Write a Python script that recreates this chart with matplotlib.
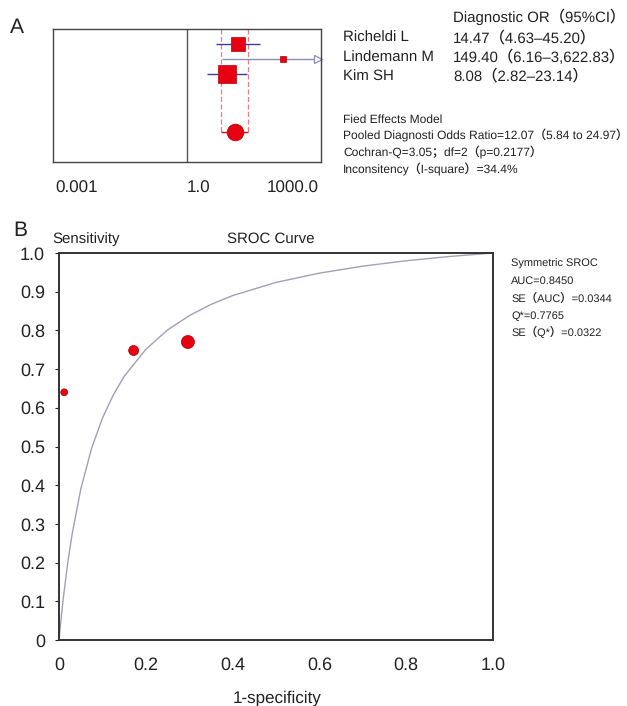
import matplotlib
matplotlib.use('Agg')
import matplotlib.pyplot as plt

# ---- data ----
studies = ['Richeldi L', 'Lindemann M', 'Kim SH']
dor = [14.47, 149.40, 8.08]
ci_low = [4.63, 6.16, 2.82]
ci_high = [45.20, 3622.83, 23.14]
pooled_dor = 12.07
pooled_low = 5.84
pooled_high = 24.97
summary_lines = ['Fied Effects Model',
                 'Pooled Diagnosti Odds Ratio=12.07（5.84 to 24.97）',
                 'Cochran-Q=3.05；df=2（p=0.2177）',
                 'Inconsitency（I-square）=34.4%']

fpr = [0.012, 0.172, 0.297]
sens = [0.640, 0.748, 0.770]
curve_fpr = [0.0, 0.005, 0.01, 0.02, 0.03, 0.05, 0.075, 0.1, 0.125, 0.15, 0.2,
             0.25, 0.3, 0.35, 0.4, 0.5, 0.6, 0.7, 0.8, 0.9, 1.0]
curve_tpr = [0.0, 0.057, 0.109, 0.198, 0.272, 0.389, 0.495, 0.573, 0.633, 0.681, 0.751,
             0.801, 0.838, 0.867, 0.890, 0.924, 0.948, 0.966, 0.980, 0.991, 1.0]
sroc_stats = ['Symmetric SROC', 'AUC=0.8450', 'SE（AUC）=0.0344',
              'Q*=0.7765', 'SE（Q*）=0.0322']

plt.rcParams['font.family'] = ['Liberation Sans', 'Noto Sans CJK SC']
plt.rcParams['text.hinting'] = 'no_hinting'
plt.rcParams['text.hinting_factor'] = 1

W, H = 627, 706
fig = plt.figure(figsize=(W / 100, H / 100), dpi=100)

def fx(px):
    return px / W

def fy(py):
    return 1 - py / H

red = '#e60012'
txt = '#222222'

# ---- panel A: forest plot ----
axA = fig.add_axes([fx(53), fy(162), fx(321) - fx(53), fy(29) - fy(162)])
xmin, xmax = 10 ** -3.05, 10 ** 3.05
axA.set_xscale('log')
axA.set_xlim(xmin, xmax)
axA.set_ylim(8.9, 0)
rows = [1, 2, 3]
pooled_row = 6.9
msizes = [10, 4.3, 13]

axA.axvline(1.0, color='#555555', lw=1)
axA.vlines([pooled_low, pooled_high], 0, pooled_row, colors='#e88080',
           linestyles=(0, (4, 2)), lw=0.9)
axA.hlines(pooled_row, pooled_low, pooled_high, colors=red, lw=1)

for r, d, lo, hi, ms in zip(rows, dor, ci_low, ci_high, msizes):
    if hi > xmax:
        end = xmax / 1.18
        axA.hlines(r, lo, end, colors='#8c8cb8', lw=1)
        axA.plot([end], [r], marker='>', ms=6, mfc='white', mec='#8c8cb8', mew=0.9, clip_on=False)
    else:
        axA.hlines(r, lo, hi, colors='#3a3aa0', lw=1)
    axA.plot([d], [r], marker='s', ms=ms, color=red, mec='#b00000', mew=0.5)

axA.plot([pooled_dor], [pooled_row], marker='o', ms=12, color=red, mec='#b00000', mew=0.5)

axA.set_xticks([0.001, 1.0, 1000.0])
axA.set_xticklabels(['0.001', '1.0', '1000.0'])
axA.minorticks_off()
axA.tick_params(axis='x', length=0, pad=13, labelsize=12.5, colors=txt)
labs = axA.get_xticklabels()
labs[0].set_ha('left')
labs[1].set_ha('left')
labs[1].set_x(1.0)
labs[2].set_ha('right')
axA.set_yticks([])
for s in axA.spines.values():
    s.set_color('#444444')
    s.set_linewidth(1)

fig.text(fx(10), fy(33), 'A', fontsize=15, color=txt)
fig.text(fx(453), fy(22), 'Diagnostic OR（95%CI）', fontsize=11, color=txt)
name_y = [42, 62, 81]
for yy, name, d, lo, hi in zip(name_y, studies, dor, ci_low, ci_high):
    fig.text(fx(343), fy(yy), name, fontsize=11, color=txt)
    fig.text(fx(453), fy(yy), f'{d:.2f}（{lo:.2f}–{hi:,.2f}）', fontsize=11, color=txt)
for i, line in enumerate(summary_lines):
    fig.text(fx(343), fy(123 + 16.7 * i), line, fontsize=8.6, color=txt)

# ---- panel B: SROC ----
axB = fig.add_axes([fx(59), fy(640), fx(493) - fx(59), fy(253) - fy(640)])
axB.plot(curve_fpr, curve_tpr, color='#a0a0b8', lw=1)
axB.scatter(fpr, sens, s=[25, 52, 88], color=red, edgecolors='#b00000', linewidths=0.5, zorder=3)
axB.set_xlim(0, 1)
axB.set_ylim(0, 1)
axB.set_xticks([0, 0.2, 0.4, 0.6, 0.8, 1.0])
axB.set_xticklabels(['0', '0.2', '0.4', '0.6', '0.8', '1.0'])
axB.set_yticks([i / 10 for i in range(11)])
axB.set_yticklabels(['0'] + [f'{i / 10:.1f}' for i in range(1, 11)])
axB.tick_params(axis='x', length=0, pad=12, labelsize=13, colors=txt)
axB.tick_params(axis='y', length=3, pad=7, labelsize=13, colors=txt)
for t in axB.yaxis.get_ticklines():
    t.set_color('#bbbbbb')
for s in axB.spines.values():
    s.set_color('#333333')
    s.set_linewidth(1.4)

fig.text(fx(277), fy(702), '1-specificity', fontsize=12.5, ha='center', color=txt)
fig.text(fx(13), fy(236), 'B', fontsize=15, color=txt)
fig.text(fx(52), fy(243), 'Sensitivity', fontsize=11, color=txt)
fig.text(fx(227), fy(243), 'SROC Curve', fontsize=11, color=txt)
for i, line in enumerate(sroc_stats):
    fig.text(fx(511), fy(267 + 17.2 * i), line, fontsize=8.2, color=txt)

fig.savefig('out.png', dpi=100)
